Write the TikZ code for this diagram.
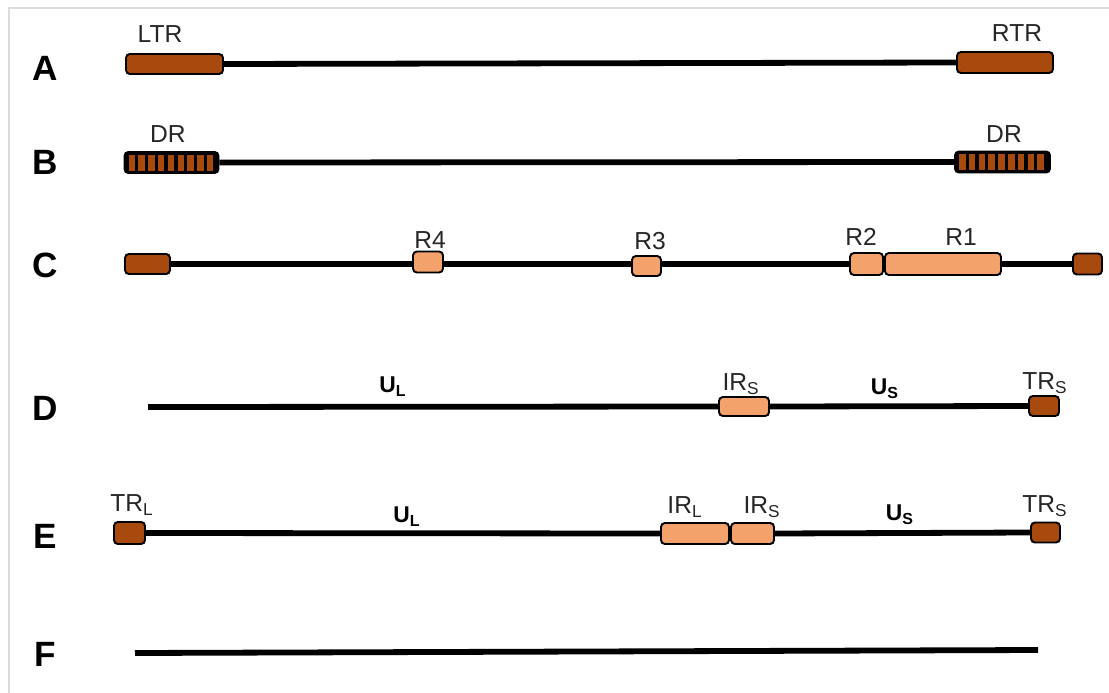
\documentclass[tikz,border=0pt]{standalone}
\usepackage{fontspec}
\setmainfont{Liberation Sans}
\usetikzlibrary{calc}
\definecolor{frame}{HTML}{DCDCDC}
\definecolor{rust}{HTML}{A8490D}
\definecolor{salmon}{HTML}{F4A26C}
\tikzset{
  strand/.style={draw=black, line width=3.3pt},
  seg/.style 2 args={draw=black, line width=1.1pt, rounded corners=2.2pt, inner sep=0pt, minimum width=#1*0.02cm, minimum height=#2*0.02cm},
  segd/.style 2 args={seg={#1}{#2}, fill=rust},
  segl/.style 2 args={seg={#1}{#2}, fill=salmon},
  segdr/.style 2 args={seg={#1}{#2}, fill=black},
  row/.style={font=\fontsize{20}{24}\selectfont\bfseries, inner sep=0pt},
  lab/.style={font=\fontsize{14}{16}\selectfont, text=black!85, inner sep=0pt},
  labb/.style={font=\fontsize{13}{16}\selectfont\bfseries, inner sep=0pt},
}

\begin{document}
\begin{tikzpicture}[x=0.02cm, y=-0.02cm]
  \useasboundingbox (0,0) rectangle (1109,693);
  \draw[frame, line width=1.2pt] (9,693) -- (9,8) -- (1109,8);

  % row letters
  \foreach \r/\y in {A/68,B/162,C/265,D/408,E/536,F/654}{
    \node[row] (row\r) at (45,\y) {\r};
  }

  % A
  \node[segd={97}{20}] (ltr) at (174.5,64) {};
  \node[segd={96}{21}] (rtr) at (1005,62.5) {};
  \draw[strand] (ltr.east) -- (rtr.west);
  \node[lab] (ltrlab) at (160,34) {LTR};
  \node[lab] (rtrlab) at (1017,33) {RTR};

  % B
  \node[segdr={94}{21}] (drl) at (171.5,162.5) {};
  \node[segdr={95}{21}] (drr) at (1002.5,162) {};
  \foreach \d in {drl,drr}{
    \foreach \i in {0,...,8}{
      \fill[rust] ($(\d.west)+(5+\i*9.8,-8)$) rectangle ++(6.5,16);
    }
  }
  \draw[strand] (drl.east) -- (drr.west);
  \node[lab] (drllab) at (168,134) {DR};
  \node[lab] (drrlab) at (1004,134) {DR};

  % C
  \node[segd={45}{20}] (cl) at (147.5,264) {};
  \node[segl={30}{21}] (r4) at (428,262) {};
  \node[segl={29}{20}] (r3) at (646.5,266) {};
  \node[segl={33}{22}] (r2) at (866.5,264) {};
  \node[segl={116}{22}] (r1) at (943,264) {};
  \node[segd={29}{21}] (cr) at (1087.5,264) {};
  \draw[strand] (cl.east) -- (cl.east -| r4.west);
  \draw[strand] (cl.east -| r4.east) -- (cl.east -| r3.west);
  \draw[strand] (cl.east -| r3.east) -- (r2.west);
  \draw[strand] (r1.east) -- (cr.west);
  \node[lab] (r4lab) at (430,240) {R4};
  \node[lab] (r3lab) at (650,241) {R3};
  \node[lab] (r2lab) at (861,237) {R2};
  \node[lab] (r1lab) at (961,237) {R1};

  % D
  \coordinate (dstart) at (148,407);
  \node[segl={50}{19}] (dirs) at (744,406.5) {};
  \node[segd={30}{20}] (dtrs) at (1044,406) {};
  \draw[strand] (dstart) -- (dirs.west);
  \draw[strand] (dirs.east) -- (dtrs.west);
  \node[labb] (dul) at (393,387) {U\textsubscript{L}};
  \node[labb] (dus) at (885,389) {U\textsubscript{S}};
  \node[lab] (dirslab) at (741,384) {IR\textsubscript{S}};
  \node[lab] (dtrslab) at (1045,383) {TR\textsubscript{S}};

  % E
  \node[segd={31}{22}] (etrl) at (129.5,533) {};
  \node[segl={68}{21}] (eirl) at (695,533.5) {};
  \node[segl={43}{21}] (eirs) at (752.5,533.5) {};
  \node[segd={29}{20}] (etrs) at (1045.5,532.5) {};
  \draw[strand] (etrl.east) -- (eirl.west);
  \draw[strand] (eirs.east) -- (etrs.west);
  \node[lab] (etrllab) at (132,505) {TR\textsubscript{L}};
  \node[labb] (eul) at (407,517) {U\textsubscript{L}};
  \node[lab] (eirllab) at (685,507) {IR\textsubscript{L}};
  \node[lab] (eirslab) at (762,507) {IR\textsubscript{S}};
  \node[labb] (eus) at (900,515) {U\textsubscript{S}};
  \node[lab] (etrslab) at (1045,506) {TR\textsubscript{S}};

  % F
  \coordinate (fstart) at (135,653);
  \coordinate (fend) at (1038,650);
  \draw[strand] (fstart) -- (fend);
\end{tikzpicture}
\end{document}
